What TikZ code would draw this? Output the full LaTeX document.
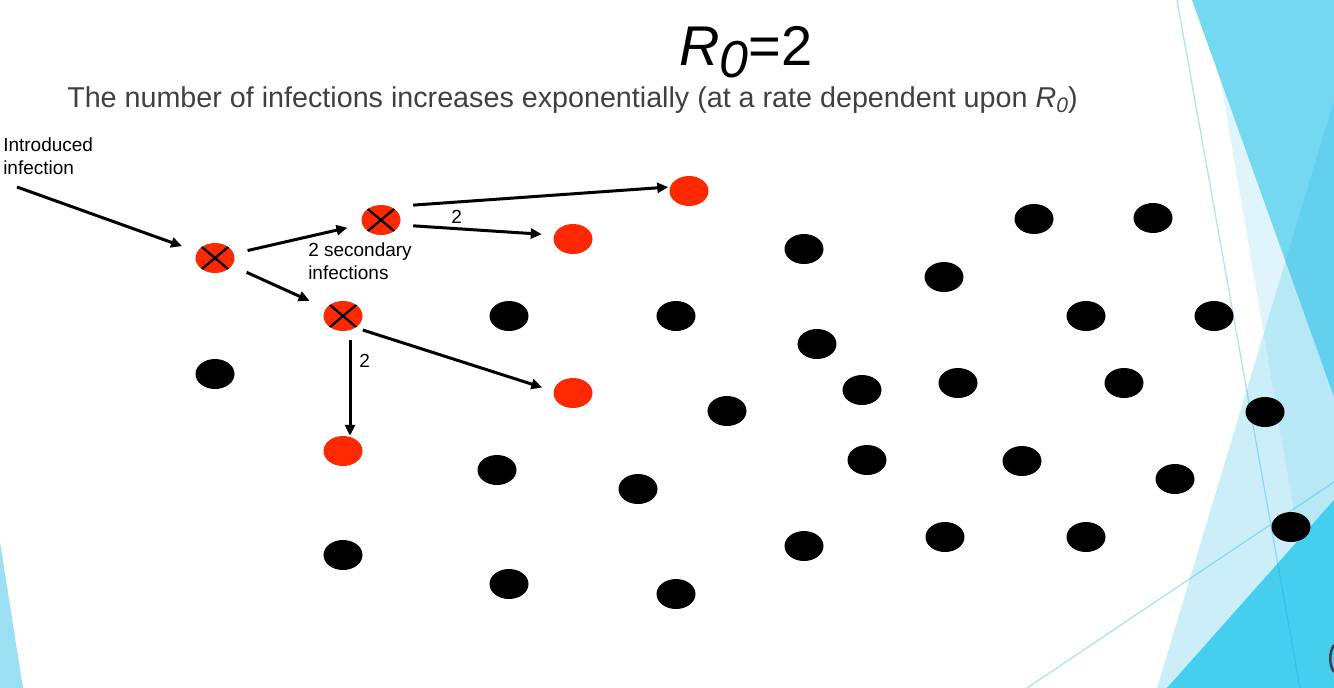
\documentclass[tikz,border=0pt]{standalone}
\usepackage{fontspec}
\setmainfont{Liberation Sans}
\usepackage{tikz}
\usetikzlibrary{arrows.meta,shapes.geometric}
\definecolor{infred}{HTML}{FF2800}
\definecolor{subgrey}{HTML}{404040}
\definecolor{facetA}{HTML}{72D9F1}
\definecolor{facetB}{RGB}{19,177,227}
\definecolor{facetC}{RGB}{121,213,238}
\definecolor{facetD}{HTML}{45CEEE}
\definecolor{facetE}{HTML}{9BDFF3}
\tikzset{
  >={Triangle[length=11pt,width=10pt]},
  sus/.style={ellipse,fill=black,minimum width=39pt,minimum height=30pt,inner sep=0pt},
  inf/.style={sus,fill=infred},
  src/.style={inf,path picture={
    \draw[line width=2.3pt]
      ([xshift=-15pt,yshift=12.5pt]path picture bounding box.center)--([xshift=15pt,yshift=-12.5pt]path picture bounding box.center)
      ([xshift=-15pt,yshift=-12.5pt]path picture bounding box.center)--([xshift=15pt,yshift=12.5pt]path picture bounding box.center);}},
  lbl/.style={font=\fontsize{19}{22.5}\selectfont,inner sep=0pt,anchor=base west},
  arr/.style={->,line width=3pt},
  every picture/.style={line width=0.5pt},
}

\begin{document}
\begin{tikzpicture}[x=1pt,y=-1pt]
\useasboundingbox (0,0) rectangle (1334,688);
% slide decoration
\fill[facetA] (1192,0)--(1334,0)--(1334,397)--cycle;
\fill[facetB,opacity=0.22] (1334,100)--(1157,688)--(1334,688)--cycle;
\fill[facetC,opacity=0.23] (1207,0)--(1334,0)--(1334,688)--(1324,688)--cycle;
\fill[facetD] (1334,500)--(1167,688)--(1334,688)--cycle;
\fill[facetE] (0,542)--(23,688)--(0,688)--cycle;
\draw[facetB,opacity=0.35,line width=1.3pt] (1177,0)--(1300,688) (1027,688)--(1334,482);
\draw[black!75,line width=2.5pt] (1334,645) .. controls (1329,652) and (1329,665) .. (1334,672);
% texts
\node[anchor=base west,inner sep=0pt,font=\fontsize{56}{60}\selectfont] (ttl) at (679,65)
  {\textit{R}\raisebox{-12pt}{\fontsize{52}{56}\selectfont\textit{0}}=2};
\node[anchor=base west,inner sep=0pt,text=subgrey,font=\fontsize{28.7}{34}\selectfont] (sub) at (67,107)
  {The number of infections increases exponentially (at a rate dependent upon \textit{R}\raisebox{-5pt}{\fontsize{21}{24}\selectfont\textit{0}})};
\node[lbl,align=left] (intro) at (3,174) {Introduced\\infection};
\node[lbl,align=left] (sec) at (308,279) {2 secondary\\infections};
\node[lbl] (nb) at (451,223) {2}; \node[lbl] (nc) at (359,367) {2};
% infected
\node[src] (a) at (215,258){}; \node[src] (b) at (381,220){}; \node[src] (c) at (343,316){};
\node[inf] (r1) at (689,191){}; \node[inf] (r2) at (573,239){}; \node[inf] (r3) at (573,393){};
\node[inf] (r4) at (343,451){};
% susceptible
\node[sus] (s1) at (215,374){}; \node[sus] (s2) at (509,316){}; \node[sus] (s3) at (676,316){};
\node[sus] (s4) at (804,249){}; \node[sus] (s5) at (944,277){}; \node[sus] (s6) at (1034,219){};
\node[sus] (s7) at (1153,218){}; \node[sus] (s8) at (1086,316){}; \node[sus] (s9) at (1214,316){};
\node[sus] (s10) at (817,344){}; \node[sus] (s11) at (862,390){}; \node[sus] (s12) at (958,383){};
\node[sus] (s13) at (1124,383){}; \node[sus] (s14) at (727,411){}; \node[sus] (s15) at (1265,412){};
\node[sus] (s16) at (497,470){}; \node[sus] (s17) at (638,489){}; \node[sus] (s18) at (867,460){};
\node[sus] (s19) at (1022,461){}; \node[sus] (s20) at (1175,479){}; \node[sus] (s21) at (1291,527){};
\node[sus] (s22) at (343,555){}; \node[sus] (s23) at (804,546){}; \node[sus] (s24) at (945,537){};
\node[sus] (s25) at (1086,537){}; \node[sus] (s26) at (509,584){}; \node[sus] (s27) at (676,594){};
% spread
\coordinate (seed) at (17,187);
\draw[arr,shorten >=16pt] (seed)--(a);
\draw[arr,shorten <=14pt,shorten >=15pt] (a)--(b);
\draw[arr,shorten <=16pt,shorten >=18pt] (a)--(c);
\draw[arr,shorten <=12.5pt,shorten >=1pt] ([yshift=14pt]b.east)--([yshift=4pt]r1.west);
\draw[arr,shorten <=12.5pt,shorten >=11.5pt] ([yshift=-5pt]b.east)--([yshift=4pt]r2.west);
\draw[arr,shorten >=11.5pt] ([yshift=-14pt]c.east)--([yshift=2pt]r3.west);
\draw[arr,shorten <=9pt] ([xshift=7pt]c.south)--([xshift=7pt]r4.north);
\end{tikzpicture}
\end{document}
